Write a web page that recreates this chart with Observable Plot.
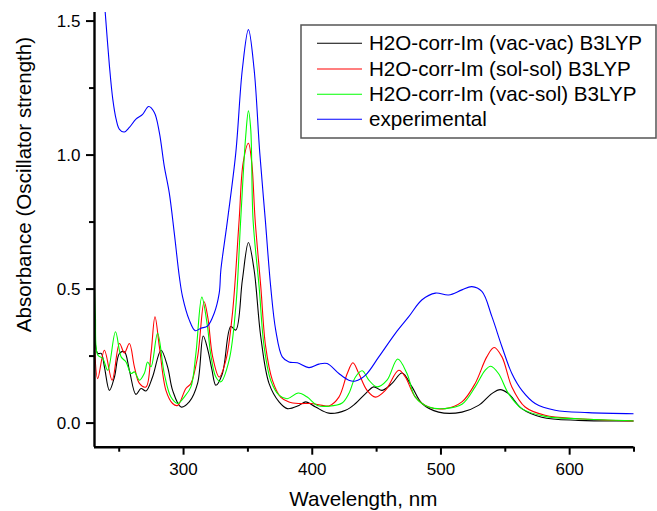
<!DOCTYPE html>
<html>
<head>
<meta charset="utf-8">
<script src="https://cdn.jsdelivr.net/npm/d3@7"></script>
<script src="https://cdn.jsdelivr.net/npm/@observablehq/plot@0.6"></script>
<style>
  body { margin: 0; background: #fff; }
  #chart { position: relative; width: 657px; height: 511px; }
</style>
</head>
<body>
<div id="chart"></div>
<script>
// ---- data (wavelength nm, absorbance / oscillator strength) ----
const seriesNames = [
  "H2O-corr-Im (vac-vac) B3LYP",
  "H2O-corr-Im (sol-sol) B3LYP",
  "H2O-corr-Im (vac-sol) B3LYP",
  "experimental"
];
const seriesColors = ["#000000", "#ff0000", "#00ff00", "#0000ff"];

const vacVac = [
  [230.8,0.38],[233.3,0.26],[236.0,0.26],[238.5,0.21],[242.4,0.122],[246.3,0.172],
  [250.2,0.26],[254.0,0.266],[257.9,0.197],[263.0,0.107],[266.9,0.129],[270.8,0.12],
  [275.9,0.172],[282.5,0.272],[287.6,0.21],[291.5,0.122],[298.0,0.06],[304.4,0.079],
  [310.9,0.148],[315.3,0.325],[319.0,0.27],[322.0,0.2],[325.1,0.141],[330.2,0.185],
  [336.7,0.36],[340.6,0.347],[345.7,0.534],[350.4,0.674],[354.8,0.572],[360.0,0.322],
  [366.4,0.148],[374.2,0.079],[380.6,0.054],[389.7,0.066],[394.9,0.079],[402.6,0.06],
  [412.9,0.037],[425.9,0.048],[433.6,0.073],[441.4,0.11],[447.8,0.135],[454.3,0.122],
  [462.0,0.148],[469.8,0.187],[477.5,0.135],[485.3,0.073],[498.2,0.041],[516.3,0.041],
  [529.2,0.066],[539.5,0.11],[546.0,0.125],[552.5,0.11],[562.8,0.054],[578.3,0.022],
  [606.8,0.01],[650,0.008]
];
const solSol = [
  [230.8,0.30],[233.3,0.166],[238.5,0.272],[244.5,0.16],[250.2,0.297],[254.0,0.262],
  [257.9,0.297],[261.8,0.21],[265.7,0.148],[270.8,0.135],[274.7,0.26],[277.8,0.397],
  [281.2,0.285],[286.3,0.122],[291.5,0.073],[295.4,0.066],[301.8,0.129],[305.7,0.148],
  [310.9,0.247],[316.0,0.453],[319.0,0.39],[322.5,0.25],[327.7,0.172],[332.9,0.235],
  [338.0,0.41],[343.2,0.759],[346.3,0.971],[350.4,1.044],[353.0,0.971],[355.6,0.759],
  [360.0,0.509],[363.8,0.285],[369.0,0.16],[375.4,0.097],[381.9,0.079],[389.7,0.073],
  [398.7,0.073],[407.7,0.066],[413.0,0.064],[420.7,0.097],[427.2,0.185],[431.6,0.225],
  [436.2,0.185],[442.6,0.122],[449.1,0.097],[456.8,0.122],[467.2,0.197],[472.3,0.172],
  [480.1,0.097],[490.5,0.06],[503.3,0.054],[516.3,0.079],[526.6,0.148],[535.6,0.247],
  [541.3,0.282],[547.4,0.247],[555.1,0.135],[565.4,0.06],[580.9,0.029],[606.8,0.016],
  [650,0.008]
];
const vacSol = [
  [230.8,0.50],[231.5,0.40],[233.3,0.254],[237.2,0.241],[241.1,0.197],[247.1,0.341],
  [251.5,0.247],[255.3,0.228],[259.2,0.185],[261.8,0.191],[265.7,0.16],[269.5,0.185],
  [272.1,0.228],[274.7,0.21],[279.8,0.335],[285.0,0.185],[290.2,0.097],[295.4,0.073],
  [300.5,0.097],[305.7,0.135],[309.6,0.26],[314.2,0.47],[318.6,0.36],[321.0,0.26],
  [325.1,0.172],[329.0,0.154],[335.4,0.235],[340.6,0.434],[344.4,0.759],[348.3,1.071],
  [350.4,1.165],[352.2,1.096],[354.0,0.759],[358.7,0.509],[362.6,0.285],[367.7,0.16],
  [374.2,0.104],[380.6,0.091],[389.1,0.112],[396.1,0.097],[403.9,0.066],[413.0,0.063],
  [423.2,0.075],[428.4,0.11],[433.6,0.172],[438.8,0.195],[444.0,0.16],[450.4,0.135],
  [458.1,0.16],[466.4,0.239],[473.6,0.185],[480.1,0.097],[490.5,0.06],[503.3,0.054],
  [516.3,0.07],[526.6,0.135],[534.3,0.197],[538.7,0.212],[544.7,0.185],[552.5,0.11],
  [562.8,0.054],[580.9,0.025],[606.8,0.016],[650,0.008]
];
const experimental = [
  [238.0,1.60],[239.0,1.54],[242.4,1.333],[245.0,1.209],[247.6,1.134],[250.2,1.096],
  [254.0,1.086],[257.9,1.103],[263.0,1.134],[268.2,1.152],[272.9,1.181],[277.3,1.159],
  [281.2,1.084],[285.0,0.959],[288.9,0.859],[292.8,0.709],[296.7,0.547],[299.2,0.472],
  [304.4,0.385],[309.0,0.345],[313.5,0.354],[318.6,0.362],[323.8,0.41],[327.7,0.485],
  [329.0,0.572],[334.2,0.759],[340.6,1.009],[345.7,1.321],[350.4,1.468],[354.8,1.321],
  [359.2,1.009],[363.5,0.759],[367.7,0.509],[371.6,0.347],[376.7,0.247],[381.9,0.228],
  [388.4,0.225],[397.4,0.207],[405.2,0.22],[411.6,0.222],[420.7,0.185],[428.4,0.16],
  [433.6,0.157],[441.4,0.179],[451.7,0.247],[464.6,0.335],[475.0,0.397],[485.3,0.46],
  [495.7,0.485],[506.0,0.478],[516.3,0.497],[524.0,0.509],[531.8,0.491],[539.6,0.397],
  [547.4,0.285],[555.1,0.185],[562.9,0.122],[573.2,0.073],[588.7,0.048],[614.5,0.039],
  [650,0.035]
];

const xMajorTicks = [300, 400, 500, 600];
const xMinorTicks = [250, 350, 450, 550, 650];
const yMajorTicks = [0, 0.5, 1.0, 1.5];
const yMinorTicks = [0.25, 0.75, 1.25];
const xTitle = "Wavelength, nm";
const yTitle = "Absorbance (Oscillator strength)";
const xDomain = [230.8, 650];
const yDomain = [-0.09, 1.532];

// ---- build table ----
const allSeries = [vacVac, solSol, vacSol, experimental];
const rows = allSeries.flatMap((s, i) => s.map(([wl, a]) => ({wl, a, series: seriesNames[i]})));

const font = "'Liberation Sans', Arial, sans-serif";

const svg = Plot.plot({
  width: 657,
  height: 511,
  marginLeft: 94,
  marginRight: 23.5,
  marginTop: 12,
  marginBottom: 64.3,
  style: {fontFamily: font, fontSize: "17px"},
  x: {domain: xDomain, label: null},
  y: {domain: yDomain, label: null},
  color: {domain: seriesNames, range: seriesColors},
  marks: [
    Plot.line(rows, {x: "wl", y: "a", z: "series", stroke: "series", strokeWidth: 1.1,
      curve: "catmull-rom", clip: true}),
    Plot.axisX({ticks: xMajorTicks, tickSize: 8, tickPadding: 8, strokeWidth: 2, stroke: "black",
      fill: "black", fontSize: 17, label: null, tickFormat: d3.format("d")}),
    Plot.axisX({ticks: xMinorTicks, tickSize: 5, strokeWidth: 2, stroke: "black", label: null,
      tickFormat: () => ""}),
    Plot.axisY({ticks: yMajorTicks, tickSize: 8, tickPadding: 6, strokeWidth: 2, stroke: "black",
      fill: "black", fontSize: 17, label: null, tickFormat: d3.format(".1f")}),
    Plot.axisY({ticks: yMinorTicks, tickSize: 5, strokeWidth: 2, stroke: "black", label: null,
      tickFormat: () => ""}),
    Plot.ruleX([xDomain[0]], {strokeWidth: 2.4, stroke: "black"}),
    Plot.ruleY([yDomain[0]], {strokeWidth: 2.4, stroke: "black"})
  ]
});

const s = d3.select(svg);
// axis titles
s.append("text")
  .attr("x", 363.3).attr("y", 506)
  .attr("text-anchor", "middle")
  .style("font-family", font).style("font-size", "20.6px").attr("fill", "#000")
  .text(xTitle);
s.append("text")
  .attr("transform", "translate(31,184.5) rotate(-90)")
  .attr("text-anchor", "middle")
  .style("font-family", font).style("font-size", "20.6px").attr("fill", "#000")
  .text(yTitle);

// legend
const lg = s.append("g");
lg.append("rect")
  .attr("x", 301).attr("y", 25).attr("width", 355).attr("height", 113)
  .attr("fill", "#fff").attr("stroke", "#555").attr("stroke-width", 1.5);
const rowY = [43.3, 69, 94.3, 119.3];
seriesNames.forEach((name, i) => {
  lg.append("line")
    .attr("x1", 317).attr("x2", 362).attr("y1", rowY[i]).attr("y2", rowY[i])
    .attr("stroke", seriesColors[i]).attr("stroke-width", 1.1);
  lg.append("text")
    .attr("x", 369).attr("y", rowY[i] + 7)
    .attr("text-anchor", "start")
    .style("font-family", font).style("font-size", "20.6px").attr("fill", "#000")
    .text(name);
});

document.getElementById("chart").appendChild(svg);
</script>
</body>
</html>
